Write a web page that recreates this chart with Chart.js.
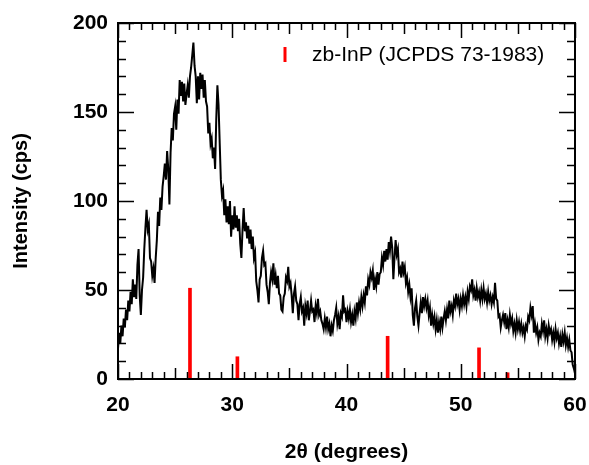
<!DOCTYPE html>
<html>
<head>
<meta charset="utf-8">
<script src="https://cdn.jsdelivr.net/npm/chart.js@4.4.1/dist/chart.umd.min.js"></script>
<style>
  html, body { margin: 0; padding: 0; background: #fff; }
</style>
</head>
<body>
<canvas id="xrd-chart" width="589" height="465"></canvas>
<script>
// scan settings (2theta, degrees)
const scanStart = 20;
const scanStep = 0.1;

// measured intensity (cps), one row per degree: 20.0 ... 20.9, 21.0 ... 21.9, ...
const intensity = [
    17, 26, 20, 30, 24, 34, 29, 39, 33, 44,   // 20
    38, 49, 42, 56, 46, 53, 45, 64, 73, 47,   // 21
    36, 50, 57, 73, 85, 95, 84, 87, 68, 66,   // 22
    58, 62, 54, 68, 78, 94, 86, 102, 95, 108, // 23
    114, 121, 112, 128, 118, 98, 127, 141, 134, 149, // 24
    153, 140, 157, 149, 168, 159, 167, 156, 166, 154, // 25
    160, 165, 158, 170, 175, 182, 189, 176, 170, 155, // 26
    170, 157, 172, 163, 171, 158, 168, 156, 153, 138, // 27
    144, 132, 135, 124, 130, 118, 146, 165, 154, 133, // 28
    112, 103, 106, 92, 101, 88, 97, 87, 100, 80, // 29
    92, 84, 97, 85, 92, 83, 90, 76, 68, 84,   // 30
    96, 83, 88, 79, 86, 76, 84, 73, 80, 68,   // 31
    71, 55, 50, 43, 56, 58, 68, 72, 64, 65,   // 32
    53, 49, 42, 54, 60, 56, 65, 53, 58, 51,   // 33
    58, 48, 47, 39, 38, 46, 48, 57, 55, 63,   // 34
    52, 54, 47, 37, 48, 52, 44, 42, 33, 42,   // 35
    46, 38, 40, 30, 41, 37, 44, 33, 38, 44,   // 36
    38, 39, 32, 41, 37, 45, 36, 38, 33, 31,   // 37
    28, 34, 29, 35, 28, 31, 24, 30, 27, 33,   // 38
    36, 40, 31, 35, 28, 37, 35, 47, 38, 39,   // 39
    32, 38, 34, 39, 32, 36, 30, 38, 34, 43,   // 40
    37, 43, 39, 46, 41, 47, 43, 52, 47, 56,   // 41
    53, 60, 57, 61, 50, 56, 52, 60, 53, 59,   // 42
    60, 68, 64, 72, 66, 73, 67, 77, 72, 80,   // 43
    74, 56, 68, 78, 70, 73, 60, 62, 57, 66,   // 44
    60, 63, 54, 57, 49, 53, 46, 51, 36, 30,   // 45
    40, 44, 35, 30, 37, 43, 37, 46, 41, 45,   // 46
    40, 44, 36, 40, 30, 36, 31, 35, 28, 33,   // 47
    26, 32, 28, 35, 29, 34, 38, 33, 39, 34,   // 48
    44, 38, 41, 36, 44, 41, 48, 42, 45, 39,   // 49
    45, 41, 47, 42, 46, 41, 49, 45, 52, 50,   // 50
    56, 47, 50, 44, 51, 46, 49, 44, 50, 45,   // 51
    51, 45, 48, 43, 49, 44, 47, 42, 46, 43,   // 52
    54, 45, 44, 35, 36, 29, 33, 36, 32, 37,   // 53
    28, 33, 29, 36, 31, 34, 27, 31, 26, 33,   // 54
    28, 32, 27, 31, 26, 29, 24, 30, 28, 35,   // 55
    33, 40, 36, 41, 26, 31, 26, 29, 22, 26,   // 56
    24, 31, 27, 33, 24, 28, 23, 30, 26, 28,   // 57
    22, 26, 21, 28, 23, 26, 20, 24, 18, 25,   // 58
    21, 26, 19, 23, 18, 22, 16, 15, 8, 6,     // 59
    3                                         // 60
];

// zb-InP reference pattern (JCPDS 73-1983), scaled
const refPositions = [26.3, 30.45, 43.6, 51.6, 54.1];
const refIntensity = [51, 12.5, 24, 17.5, 3.5];

const xTicks = [20, 30, 40, 50, 60];
const yTicks = [0, 50, 100, 150, 200];
const refLabel = "zb-InP (JCPDS 73-1983)";

const fontFamily = "'Liberation Sans', Arial, sans-serif";

// frame plus inward ticks on all four sides
const frameTicks = {
    id: "frameTicks",
    afterDatasetsDraw(chart) {
        const {ctx, chartArea: a, scales: {x, y}} = chart;
        ctx.save();
        ctx.strokeStyle = "#000";
        ctx.lineWidth = 1.5;
        ctx.beginPath();
        for (let v = 20; v <= 60; v++) {
            const px = Math.round(x.getPixelForValue(v)) + 0.5;
            const len = v % 10 === 0 ? 15 : (v % 5 === 0 ? 11 : 7);
            ctx.moveTo(px, a.bottom);
            ctx.lineTo(px, a.bottom - len);
            ctx.moveTo(px, a.top);
            ctx.lineTo(px, a.top + len);
        }
        for (let v = 0; v <= 200; v += 10) {
            const py = Math.round(y.getPixelForValue(v)) + 0.5;
            const len = v % 50 === 0 ? 16 : 8;
            ctx.moveTo(a.left, py);
            ctx.lineTo(a.left + len, py);
            ctx.moveTo(a.right, py);
            ctx.lineTo(a.right - len, py);
        }
        ctx.stroke();
        ctx.lineWidth = 2;
        ctx.strokeRect(a.left, a.top, a.right - a.left, a.bottom - a.top);

        // legend
        const lx = a.left + 167;
        const ly = a.top + 32;
        ctx.strokeStyle = "#ff0000";
        ctx.lineWidth = 3;
        ctx.beginPath();
        ctx.moveTo(lx, ly - 8);
        ctx.lineTo(lx, ly + 7);
        ctx.stroke();
        ctx.fillStyle = "#000";
        ctx.font = "21px " + fontFamily;
        ctx.textBaseline = "middle";
        ctx.textAlign = "left";
        ctx.fillText(refLabel, lx + 27, ly);
        ctx.restore();
    }
};

(function () {
    "use strict"

    const ctx = document.getElementById("xrd-chart").getContext("2d");
    const scan = intensity.map((v, i) => ({x: +(scanStart + i * scanStep).toFixed(2), y: v}));
    const refs = refPositions.map((p, i) => ({x: p, y: refIntensity[i]}));

    new Chart(ctx, {
        type: "line",
        data: {
            datasets: [
                {
                    type: "bar",
                    label: refLabel,
                    data: refs,
                    backgroundColor: "#ff0000",
                    barThickness: 3,
                    order: 0,
                },
                {
                    label: "Sample",
                    data: scan,
                    borderColor: "#000",
                    borderWidth: 2,
                    pointRadius: 0,
                    tension: 0,
                    order: 1,
                },
            ],
        },
        options: {
            responsive: false,
            animation: false,
            devicePixelRatio: 1,
            layout: {
                padding: {left: 0, right: 14, top: 23, bottom: 0},
            },
            plugins: {
                legend: {display: false},
                tooltip: {enabled: false},
            },
            scales: {
                x: {
                    type: "linear",
                    min: 20,
                    max: 60,
                    offset: false,
                    afterBuildTicks: (scale) => { scale.ticks = xTicks.map(v => ({value: v})); },
                    afterFit: (scale) => {
                        scale.height = 86;
                        scale.paddingLeft = 0;
                        scale.paddingRight = 0;
                    },
                    grid: {display: false, drawTicks: false},
                    border: {display: false},
                    ticks: {
                        padding: 14,
                        maxRotation: 0,
                        color: "#000",
                        font: {family: fontFamily, size: 21, weight: "bold"},
                    },
                    title: {
                        display: true,
                        text: "2θ (degrees)",
                        color: "#000",
                        padding: {top: 0, bottom: 0},
                        font: {family: fontFamily, size: 21, weight: "bold"},
                    },
                },
                y: {
                    min: 0,
                    max: 200,
                    afterBuildTicks: (scale) => { scale.ticks = yTicks.map(v => ({value: v})); },
                    afterFit: (scale) => {
                        scale.width = 118;
                        scale.paddingTop = 0;
                        scale.paddingBottom = 0;
                    },
                    grid: {display: false, drawTicks: false},
                    border: {display: false},
                    ticks: {
                        padding: 10,
                        color: "#000",
                        font: {family: fontFamily, size: 21, weight: "bold"},
                    },
                    title: {
                        display: true,
                        text: "Intensity (cps)",
                        color: "#000",
                        padding: {top: 9, bottom: 0},
                        font: {family: fontFamily, size: 20, weight: "bold"},
                    },
                },
            },
        },
        plugins: [frameTicks],
    });
})()
</script>
</body>
</html>
